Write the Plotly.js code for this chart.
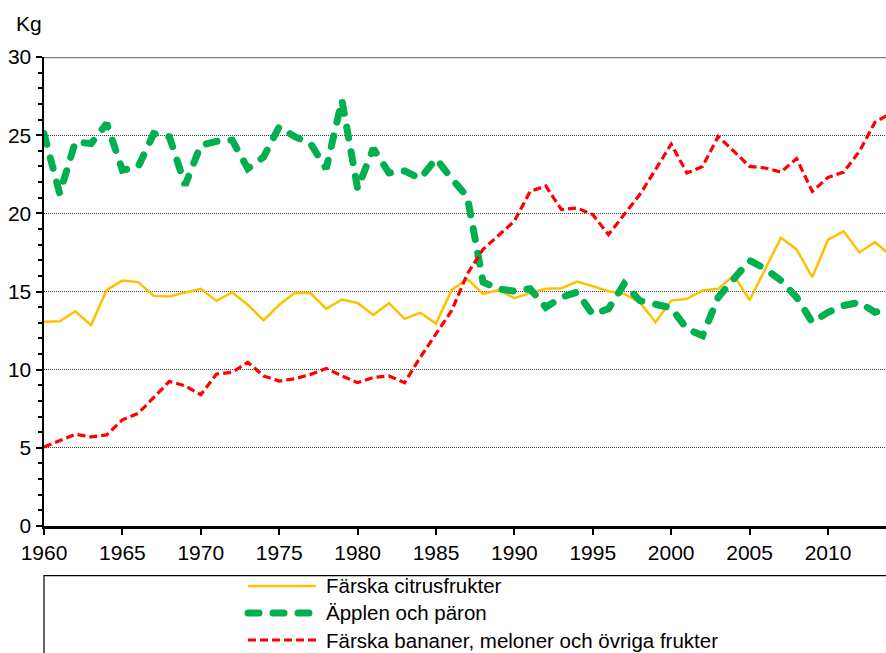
<!DOCTYPE html>
<html>
<head>
<meta charset="utf-8">
<script src="https://cdn.plot.ly/plotly-3.0.1.min.js"></script>
<style>html,body{margin:0;padding:0;background:#fff;}#chart{width:886px;height:653px;}</style>
</head>
<body>
<div id="chart"></div>
<script>
const years = [];
for (let y = 1960; y <= 2014; y++) years.push(y);

const seriesNames = ["Färska citrusfrukter", "Äpplen och päron", "Färska bananer, meloner och övriga frukter"];

const citrus = [13.06,13.1,13.74,12.84,15.1,15.7,15.6,14.72,14.68,14.92,
  15.17,14.4,14.94,14.15,13.16,14.15,14.92,14.9,13.89,14.49,
  14.27,13.5,14.25,13.25,13.65,12.95,15.1,15.79,14.85,15.1,
  14.57,14.9,15.17,15.21,15.64,15.34,15.02,14.85,14.3,13.03,
  14.42,14.53,15.06,15.17,16.03,14.45,16.4,18.44,17.69,15.92,
  18.31,18.85,17.5,18.16,17.3];

const apples = [25.1,21.26,24.57,24.46,25.75,22.76,22.97,25.1,24.89,21.8,
  24.36,24.6,24.68,22.86,23.6,25.53,24.9,24.46,22.86,27.24,
  21.58,24.15,22.59,22.71,22.22,23.5,22.22,21.05,15.6,15.17,
  15.02,15.17,13.99,14.63,14.96,13.53,13.89,15.49,14.42,14.17,
  13.95,12.61,12.18,14.63,15.81,16.99,16.45,15.7,14.63,13.03,
  13.67,14.1,14.31,13.67,13.9];

const bananas = [5.06,5.45,5.87,5.7,5.83,6.79,7.2,8.22,9.25,8.97,
  8.4,9.72,9.83,10.47,9.6,9.27,9.42,9.7,10.08,9.6,
  9.17,9.5,9.6,9.17,10.79,12.29,13.78,16.13,17.7,18.6,
  19.5,21.4,21.75,20.24,20.34,19.92,18.64,19.92,21.2,22.8,
  24.43,22.58,23.0,24.92,23.96,23.0,22.9,22.64,23.5,21.4,
  22.3,22.64,23.96,25.83,26.4];

const yTickVals = [0,5,10,15,20,25,30];
const xTickVals = [1960,1965,1970,1975,1980,1985,1990,1995,2000,2005,2010];

const colors = ["#FFC000", "#00B050", "#FF0000"];
const FONT = "Liberation Sans, Arial, sans-serif";
const TICKSIZE = 21;
const LEGSIZE = 20.5;

const traces = [
  {x: years, y: citrus, name: seriesNames[0], type: "scatter", mode: "lines",
   line: {color: colors[0], width: 2.5}},
  {x: years, y: apples, name: seriesNames[1], type: "scatter", mode: "lines",
   line: {color: colors[1], width: 7, dash: "11px,14px"}},
  {x: years, y: bananas, name: seriesNames[2], type: "scatter", mode: "lines",
   line: {color: colors[2], width: 3.2, dash: "8px,4px"}}
];

// legend geometry (paper coords; plot area spans y 57..526 px)
const legX0 = 0.2423, legX1 = 0.3230, legTextX = 0.3325;
const legY = [-0.1279, -0.1855, -0.2431];
const legDash = ["solid", "11px,14px", "8px,4px"];
const legWidth = [2.5, 7, 3.2];

const shapes = [
  {type: "line", xref: "paper", yref: "y", x0: 0, x1: 1, y0: 30, y1: 30,
   line: {color: "#808080", width: 2.5}, layer: "above"},
  {type: "rect", xref: "paper", yref: "paper", x0: 0, x1: 1.05, y0: -0.106, y1: -0.40,
   line: {color: "#000", width: 1.2}, fillcolor: "rgba(0,0,0,0)"}
];
const annotations = [
  {text: "Kg", xref: "paper", yref: "paper", x: -0.0178, y: 1.0704, xanchor: "center", yanchor: "middle",
   showarrow: false, font: {family: FONT, size: TICKSIZE, color: "#000"}}
];
for (let i = 0; i < 3; i++) {
  shapes.push({type: "line", xref: "paper", yref: "paper", x0: legX0, x1: legX1, y0: legY[i], y1: legY[i],
    line: {color: colors[i], width: legWidth[i], dash: legDash[i]}});
  annotations.push({text: seriesNames[i], xref: "paper", yref: "paper", x: legTextX, y: legY[i],
    xanchor: "left", yanchor: "middle", showarrow: false,
    font: {family: FONT, size: LEGSIZE, color: "#000"}});
}

const layout = {
  width: 886, height: 653,
  margin: {l: 44, r: 0, t: 57, b: 127, pad: 0},
  paper_bgcolor: "#fff", plot_bgcolor: "#fff",
  showlegend: false,
  font: {family: FONT, size: TICKSIZE, color: "#000"},
  xaxis: {
    range: [1960, 2013.7], tickvals: xTickVals, ticktext: xTickVals.map(String),
    showgrid: false, zeroline: false,
    showline: true, linecolor: "#000", linewidth: 2.5,
    ticks: "outside", ticklen: 6, tickwidth: 2, tickcolor: "#000",
    tickfont: {family: FONT, size: TICKSIZE, color: "#000"}
  },
  yaxis: {
    range: [0, 30], tickvals: yTickVals, ticktext: yTickVals.map(String),
    showgrid: true, gridcolor: "#404040", gridwidth: 1, griddash: "1px,1px",
    zeroline: false,
    showline: true, linecolor: "#000", linewidth: 2.5,
    ticks: "outside", ticklen: 6, tickwidth: 2, tickcolor: "#000",
    minor: {dtick: 1, tick0: 0, ticks: "outside", ticklen: 4, tickwidth: 2, tickcolor: "#000", showgrid: false},
    tickfont: {family: FONT, size: TICKSIZE, color: "#000"}
  },
  shapes: shapes,
  annotations: annotations
};

Plotly.newPlot("chart", traces, layout, {staticPlot: true}).then(function () {
  const tr = document.querySelectorAll(".scatterlayer .trace");
  if (tr[1]) tr[1].querySelectorAll("path.js-line").forEach(p => p.style.strokeLinecap = "round");
  document.querySelectorAll(".shapelayer path").forEach(p => {
    const s = (p.style.stroke || "").replace(/\s/g, "");
    if (s === "rgb(0,176,80)") p.style.strokeLinecap = "round";
  });
});
</script>
</body>
</html>
